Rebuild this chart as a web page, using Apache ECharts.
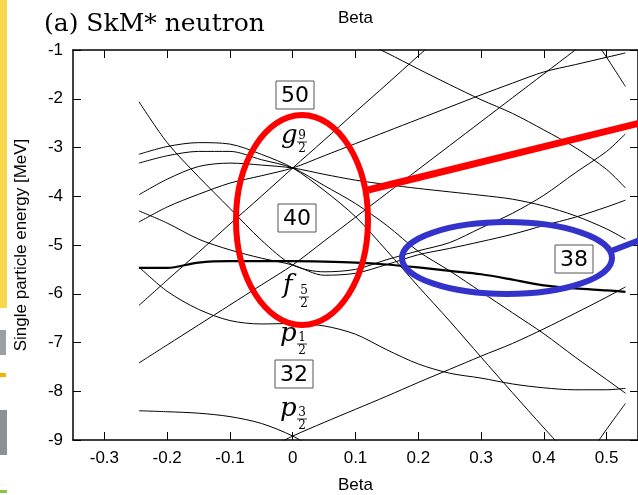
<!DOCTYPE html>
<html>
<head>
<meta charset="utf-8">
<script src="https://cdn.jsdelivr.net/npm/echarts@6/dist/echarts.min.js"></script>
<style>
  html, body { margin: 0; padding: 0; background: #fff; }
  #main { width: 638px; height: 495px; }
</style>
</head>
<body>
<div id="main"></div>
<script>
// deformation grid (Beta) shared by all levels
var betas = [-0.245, -0.2, -0.15, -0.1, -0.05, 0, 0.05, 0.1, 0.15, 0.2, 0.25, 0.3, 0.35, 0.4, 0.45, 0.5, 0.53];

// single particle energies [MeV], one value per beta (null = not drawn)
var g9Omega9 = [-6.24, -5.72, -5.15, -4.57, -4.0, -3.42, -2.85, -2.27, -1.7, -1.12, -0.55, null, null, null, null, null, null];
var g9Omega7 = [-4.53, -4.22, -3.96, -3.73, -3.58, -3.42, -3.17, -2.92, -2.67, -2.42, -2.17, -1.92, -1.68, -1.45, -1.3, -1.15, -1.06];
var g9Omega5 = [-3.97, -3.65, -3.39, -3.32, -3.36, -3.42, -3.55, -3.67, -3.76, -3.84, -3.91, -3.98, -4.06, -4.2, -4.4, -4.67, -4.88];
var g9Omega3 = [-3.32, -3.17, -3.08, -3.08, -3.25, -3.42, -3.78, -4.15, -4.6, -5.13, -5.53, -5.96, -6.39, -6.82, -7.3, -7.76, -8.04];
var g9Omega1 = [-3.14, -2.98, -2.9, -2.93, -3.14, -3.42, -3.88, -4.42, -5.12, -5.85, -6.56, -7.3, -8.03, -8.75, -9.45, null, null];
var f5Omega5 = [-7.42, -7.05, -6.64, -6.23, -5.82, -5.41, -4.92, -4.43, -3.94, -3.45, -2.96, -2.47, -1.98, -1.49, -1.0, -0.5, null];
var f5Omega1 = [-2.06, -2.9, -3.6, -4.25, -4.9, -5.41, -5.55, -5.5, -5.3, -5.12, -4.95, -4.65, -4.35, -3.98, -3.52, -3.08, -2.72];
var f5Omega3 = [-4.3, -4.55, -4.88, -5.1, -5.27, -5.41, -5.62, -5.58, -5.4, -5.2, -5.07, -4.93, -4.78, -4.6, -4.43, -4.22, -4.08];
var p1Half = [-5.45, -5.95, -6.32, -6.55, -6.62, -6.61, -6.66, -6.83, -7.15, -7.44, -7.63, -7.73, -7.85, -7.93, -7.97, -7.97, -7.94];
var p3Omega1 = [-8.4, -8.42, -8.45, -8.52, -8.66, -8.92, -9.3, null, null, null, null, null, null, null, null, null, null];
var p3Omega3 = [null, null, null, null, -9.25, -8.92, -8.64, -8.37, -8.1, -7.82, -7.55, -7.28, -7.02, -6.72, -6.4, -6.07, -5.86];
var upperA = [null, null, null, null, null, null, null, -0.75, -1.06, -1.39, -1.71, -2.02, -2.3, -2.64, -3.0, -3.45, -3.83];
var upperB = [null, null, null, null, null, null, null, null, null, null, null, null, null, null, -0.2, -1.15, -1.75];
var lowerA = [null, null, null, null, null, null, null, null, null, null, null, null, null, null, -9.7, -8.78, -8.25];
var fermi = [-5.47, -5.47, -5.36, -5.33, -5.33, -5.33, -5.34, -5.36, -5.4, -5.46, -5.53, -5.6, -5.71, -5.83, -5.89, -5.93, -5.96];

var xTicks = [-0.3, -0.2, -0.1, 0, 0.1, 0.2, 0.3, 0.4, 0.5];

var thinLevels = [g9Omega9, g9Omega7, g9Omega5, g9Omega3, g9Omega1, f5Omega5, f5Omega1, f5Omega3,
                  p1Half, p3Omega1, p3Omega3, upperA, upperB, lowerA];

function level(arr, width) {
  return {
    type: 'line',
    data: betas.map(function (b, i) { return [b, arr[i]]; }),
    showSymbol: false,
    symbol: 'none',
    smooth: 0.3,
    silent: true,
    animation: false,
    lineStyle: { color: '#000', width: width }
  };
}

var seriesList = thinLevels.map(function (a) { return level(a, 1); });
seriesList.push(level(fermi, 2.2));

var sansFont = 'Liberation Sans';
var axisText = { color: '#000', fontSize: 17, fontFamily: sansFont };

function xAxisDef(pos, showLabel, gap) {
  return {
    type: 'value', min: -0.35, max: 0.55, position: pos,
    axisLine: { onZero: false, lineStyle: { color: '#000', width: 1.5 } },
    axisTick: { inside: true, length: 8, customValues: xTicks, lineStyle: { color: '#000' } },
    axisLabel: { show: showLabel, customValues: xTicks, margin: 10, color: '#000', fontSize: 17, fontFamily: sansFont },
    splitLine: { show: false },
    name: 'Beta', nameLocation: 'middle', nameGap: gap, nameTextStyle: axisText
  };
}

function yAxisDef(pos, showLabel) {
  return {
    type: 'value', min: -9, max: -1, interval: 1, position: pos,
    axisLine: { onZero: false, lineStyle: { color: '#000', width: 1.5 } },
    axisTick: { inside: true, length: 8, lineStyle: { color: '#000' } },
    axisLabel: { show: showLabel, margin: 10, color: '#000', fontSize: 17, fontFamily: sansFont },
    splitLine: { show: false },
    name: showLabel ? 'Single particle energy [MeV]' : '',
    nameLocation: 'middle', nameGap: 43, nameTextStyle: axisText
  };
}

// orbital label: italic letter with a small stacked fraction
function orbital(letter, num, x, y, fx, fy) {
  return {
    type: 'group', z: 100, children: [
      { type: 'text', x: x, y: y, style: { text: letter, font: 'italic 26px "DejaVu Serif"', fill: '#000', verticalAlign: 'middle' } },
      { type: 'text', x: fx, y: fy - 6, style: { text: num, font: '12px "DejaVu Serif"', fill: '#000', align: 'center', verticalAlign: 'middle' } },
      { type: 'line', shape: { x1: fx - 5, y1: fy, x2: fx + 5, y2: fy }, style: { stroke: '#000', lineWidth: 0.8 } },
      { type: 'text', x: fx, y: fy + 7, style: { text: '2', font: '12px "DejaVu Serif"', fill: '#000', align: 'center', verticalAlign: 'middle' } }
    ]
  };
}

function shellBox(label, cx, cy) {
  return {
    type: 'group', z: 100, children: [
      { type: 'rect', shape: { x: cx - 19, y: cy - 14, width: 38, height: 28 }, style: { fill: '#fff', stroke: '#555', lineWidth: 1 } },
      { type: 'text', x: cx, y: cy + 1, style: { text: label, font: '22px "DejaVu Sans"', fill: '#000', align: 'center', verticalAlign: 'middle' } }
    ]
  };
}

var chart = echarts.init(document.getElementById('main'));
chart.setOption({
  animation: false,
  title: {
    text: '(a) SkM* neutron', left: 39, top: 7,
    textStyle: { fontFamily: 'DejaVu Serif', fontSize: 25, fontWeight: 'normal', color: '#000' }
  },
  grid: { left: 73, right: 0, top: 50, bottom: 55, outerBoundsMode: 'none' },
  xAxis: [xAxisDef('bottom', true, 37), xAxisDef('top', false, 23)],
  yAxis: [yAxisDef('left', true), yAxisDef('right', false)],
  series: seriesList,
  graphic: {
    elements: [
      // clipped strip on the left edge of the source picture
      { type: 'rect', shape: { x: 0, y: 0, width: 7, height: 308 }, style: { fill: '#f6d84a' } },
      { type: 'rect', shape: { x: 0, y: 330, width: 6, height: 25 }, style: { fill: '#9a9fa4' } },
      { type: 'rect', shape: { x: 0, y: 373, width: 6, height: 4 }, style: { fill: '#f0b400' } },
      { type: 'rect', shape: { x: 0, y: 410, width: 7, height: 45 }, style: { fill: '#8c9196' } },
      { type: 'rect', shape: { x: 0, y: 490, width: 7, height: 3 }, style: { fill: '#8cc63f' } },

      orbital('g', '9', 281, 136, 302, 142),
      orbital('f', '5', 283, 286, 304, 297),
      orbital('p', '1', 280, 334, 302, 344),
      orbital('p', '3', 280, 409, 302, 419),

      shellBox('50', 295, 95),
      shellBox('40', 297, 218),
      shellBox('38', 574, 259),
      shellBox('32', 294, 374),

      { type: 'ellipse', z: 110, shape: { cx: 302, cy: 220, rx: 66, ry: 105 }, style: { fill: 'none', stroke: '#ff0000', lineWidth: 6 } },
      { type: 'line', z: 110, shape: { x1: 368, y1: 190, x2: 640, y2: 123 }, style: { stroke: '#ff0000', lineWidth: 7 } },
      { type: 'ellipse', z: 110, shape: { cx: 507, cy: 258, rx: 105, ry: 36 }, style: { fill: 'none', stroke: '#3333cc', lineWidth: 6 } },
      { type: 'line', z: 110, shape: { x1: 611, y1: 251, x2: 640, y2: 240 }, style: { stroke: '#3333cc', lineWidth: 6 } }
    ]
  }
});
</script>
</body>
</html>
